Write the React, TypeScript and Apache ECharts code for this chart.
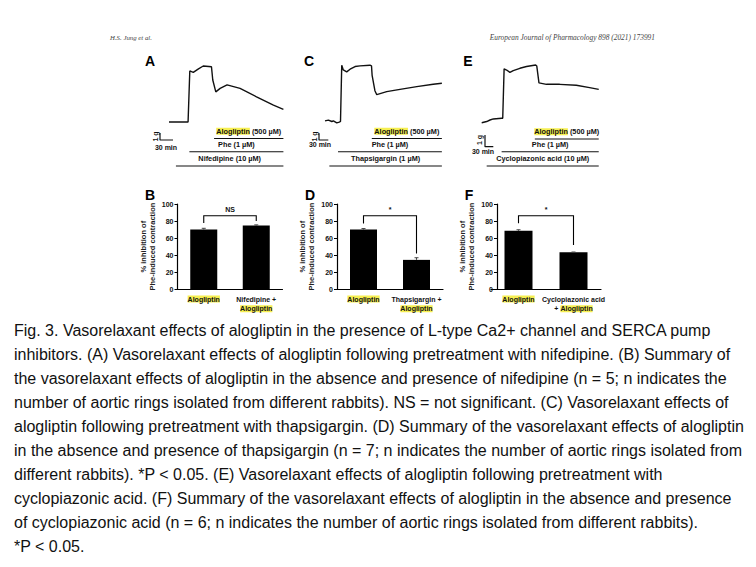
import React, { useEffect, useRef } from 'react';
import * as echarts from 'echarts';

// ---------- Header & caption ----------
const HEADER_LEFT = 'H.S. Jung et al.';
const HEADER_RIGHT = 'European Journal of Pharmacology 898 (2021) 173991';
const CAPTION_LINES = [
  'Fig. 3. Vasorelaxant effects of alogliptin in the presence of L-type Ca2+ channel and SERCA pump',
  'inhibitors. (A) Vasorelaxant effects of alogliptin following pretreatment with nifedipine. (B) Summary of',
  'the vasorelaxant effects of alogliptin in the absence and presence of nifedipine (n = 5; n indicates the',
  'number of aortic rings isolated from different rabbits). NS = not significant. (C) Vasorelaxant effects of',
  'alogliptin following pretreatment with thapsigargin. (D) Summary of the vasorelaxant effects of alogliptin',
  'in the absence and presence of thapsigargin (n = 7; n indicates the number of aortic rings isolated from',
  'different rabbits). *P < 0.05. (E) Vasorelaxant effects of alogliptin following pretreatment with',
  'cyclopiazonic acid. (F) Summary of the vasorelaxant effects of alogliptin in the absence and presence',
  'of cyclopiazonic acid (n = 6; n indicates the number of aortic rings isolated from different rabbits).',
  '*P < 0.05.',
];

// ---------- Tension traces: [time (min), tension (g)] ----------
const traceA: number[][] = [
  [0, 0], [44, 0], [48, 7.3], [56, 7.1], [68, 7.6], [79, 8.0], [98, 7.9], [101, 6.0],
  [108, 4.3], [118, 4.8], [134, 5.3], [164, 4.8], [202, 3.6], [241, 2.4], [264, 1.8],
];
const traceC: number[][] = [
  [0, 0.1], [11, 0.2], [22, 0], [27, 0.1], [38, -0.2], [46, -0.1], [50, 0], [54, 8.4],
  [59, 7.7], [70, 7.4], [81, 7.8], [97, 8.2], [113, 8.3], [145, 8.4], [150, 8.3],
  [152, 6.9], [161, 4.6], [167, 4.0], [199, 4.45], [242, 4.8], [296, 5.2], [349, 5.55], [377, 5.7],
];
const traceE: number[][] = [
  [0, 0], [18, 0.1], [30, 0.23], [42, 0.32], [72, 0.38], [76, 0.38], [81, 4.6], [90, 4.5],
  [102, 4.3], [114, 4.45], [138, 4.65], [162, 4.8], [195, 4.93], [199, 4.85], [207, 3.4],
  [234, 3.28], [282, 3.28], [342, 3.2], [390, 3.0], [423, 2.85],
];

// Drug application bars (min)
const drugNamesA = ['Alogliptin (500 µM)', 'Phe (1 µM)', 'Nifedipine (10 µM)'];
const drugStartA = [104, 47, 16];
const drugEndA = [264, 264, 264];
const drugNamesC = ['Alogliptin (500 µM)', 'Phe (1 µM)', 'Thapsigargin (1 µM)'];
const drugStartC = [151, 42, 14];
const drugEndC = [377, 377, 377];
const drugNamesE = ['Alogliptin (500 µM)', 'Phe (1 µM)', 'Cyclopiazonic acid (10 µM)'];
const drugStartE = [192, 72, 18];
const drugEndE = [423, 423, 423];

// Scale bars
const SCALE_MIN = 30;
const SCALE_G = 1;

// ---------- Summary bar charts (% inhibition) ----------
const catsB = ['Alogliptin', 'Nifedipine +\nAlogliptin'];
const valsB = [70, 74.7];
const errB = [1.5, 0.8];
const bracketB = [77.7, 80, 86.3];
const sigB = 'NS';

const catsD = ['Alogliptin', 'Thapsigargin +\nAlogliptin'];
const valsD = [70, 34.5];
const errD = [1.2, 2.5];
const bracketD = [77, 42, 86.3];
const sigD = '*';

const catsF = ['Alogliptin', 'Cyclopiazonic acid\n+ Alogliptin'];
const valsF = [68.5, 43.3];
const errF = [1.3, 0.4];
const bracketF = [77.4, 52, 86.3];
const sigF = '*';

const Y_TICKS_MIN = 0;
const Y_TICKS_MAX = 100;
const Y_TICKS_STEP = 20;
const Y_NAME = '% inhibition of\nPhe-induced contraction';

// ---------- layout ----------
const FONT = '"Liberation Sans", Arial, sans-serif';
const HL = '#f6ef52';

const tracePanels = [
  {
    letter: 'A', letterPos: [150, 61],
    grid: { left: 140, top: 48, width: 160, height: 128 }, origin: [169, 122], pxPerMin: 13 / 30, pxPerG: 7,
    trace: traceA, names: drugNamesA, starts: drugStartA, ends: drugEndA,
    levelsPx: [138.5, 151.7, 166], scaleAnchor: [160, 140], gLabel: [155, 136.5], minLabel: [166, 147],
  },
  {
    letter: 'C', letterPos: [309, 61],
    grid: { left: 300, top: 48, width: 160, height: 128 }, origin: [325, 121.5], pxPerMin: 9.3 / 30, pxPerG: 6.7,
    trace: traceC, names: drugNamesC, starts: drugStartC, ends: drugEndC,
    levelsPx: [138.5, 151.7, 166], scaleAnchor: [319, 140], gLabel: [314, 136.5], minLabel: [320, 144],
  },
  {
    letter: 'E', letterPos: [468, 61],
    grid: { left: 460, top: 48, width: 160, height: 128 }, origin: [481.7, 122.7], pxPerMin: 8.3 / 30, pxPerG: 11.7,
    trace: traceE, names: drugNamesE, starts: drugStartE, ends: drugEndE,
    levelsPx: [139, 151.7, 166], scaleAnchor: [485, 146.7], gLabel: [479, 140], minLabel: [483, 151],
  },
];

const barPanels = [
  { letter: 'B', letterPos: [150, 195], grid: { left: 177.5, top: 204, width: 105, height: 85.3 }, yOffset: 0,
    cats: catsB, vals: valsB, errs: errB, bracket: bracketB, sig: sigB, barWidth: 27 },
  { letter: 'D', letterPos: [310, 195], grid: { left: 337, top: 204, width: 106, height: 85.3 }, yOffset: 0,
    cats: catsD, vals: valsD, errs: errD, bracket: bracketD, sig: sigD, barWidth: 27 },
  { letter: 'F', letterPos: [469, 195], grid: { left: 491, top: 204, width: 110, height: 85.3 }, yOffset: -6,
    cats: catsF, vals: valsF, errs: errF, bracket: bracketF, sig: sigF, barWidth: 28 },
];

function hl(s: string) {
  return s.replace(/Alogliptin/g, '{hl|Alogliptin}');
}

function txt(text: string, x: number, y: number, extra: any = {}, styleExtra: any = {}) {
  return {
    type: 'text', x, y, ...extra,
    style: {
      text, fill: '#111', fontFamily: FONT, fontSize: 7, fontWeight: 'bold',
      textAlign: 'center', textVerticalAlign: 'middle', align: 'center', verticalAlign: 'middle',
      ...styleExtra,
    },
  };
}

export default function App() {
  const ref = useRef<HTMLDivElement>(null);
  useEffect(() => {
    if (!ref.current) return;
    const chart = echarts.init(ref.current, undefined, { renderer: 'svg' });

    const grids: any[] = [];
    const xAxes: any[] = [];
    const yAxes: any[] = [];
    const series: any[] = [];

    tracePanels.forEach((p, i) => {
      const g = p.grid;
      grids.push({ ...g, outerBoundsMode: 'none', containLabel: false });
      xAxes.push({
        type: 'value', gridIndex: i, show: false,
        min: (g.left - p.origin[0]) / p.pxPerMin, max: (g.left + g.width - p.origin[0]) / p.pxPerMin,
      });
      yAxes.push({
        type: 'value', gridIndex: i, show: false,
        max: (p.origin[1] - g.top) / p.pxPerG, min: (p.origin[1] - (g.top + g.height)) / p.pxPerG,
      });
      series.push({
        type: 'line', xAxisIndex: i, yAxisIndex: i, data: p.trace, symbol: 'none',
        lineStyle: { color: '#111', width: 1.4 }, silent: true,
      });
      p.names.forEach((_, j) => {
        const lv = (p.origin[1] - p.levelsPx[j]) / p.pxPerG;
        series.push({
          type: 'line', xAxisIndex: i, yAxisIndex: i, symbol: 'none',
          data: [[p.starts[j], lv], [p.ends[j], lv]],
          lineStyle: { color: '#111', width: 1.1 }, silent: true,
        });
      });
      const t0 = (p.scaleAnchor[0] - p.origin[0]) / p.pxPerMin;
      const g0 = (p.origin[1] - p.scaleAnchor[1]) / p.pxPerG;
      series.push({
        type: 'line', xAxisIndex: i, yAxisIndex: i, symbol: 'none',
        data: [[t0, g0 + SCALE_G], [t0, g0], [t0 + SCALE_MIN, g0]],
        lineStyle: { color: '#111', width: 1.2 }, silent: true,
      });
    });

    barPanels.forEach((p, k) => {
      const i = k + 3;
      grids.push({ ...p.grid, outerBoundsMode: 'none', containLabel: false });
      xAxes.push({
        type: 'category', gridIndex: i, data: p.cats,
        axisLine: { show: true, lineStyle: { color: '#000', width: 1.2 } },
        axisTick: { show: false },
        axisLabel: {
          interval: 0, margin: 5, color: '#111', fontFamily: FONT, fontSize: 7, fontWeight: 'bold', lineHeight: 9.6,
          formatter: (v: string) => hl(v),
          rich: { hl: { backgroundColor: HL, color: '#111', fontFamily: FONT, fontSize: 7, fontWeight: 'bold', lineHeight: 9.6 } },
        },
      });
      yAxes.push({
        type: 'value', gridIndex: i, min: Y_TICKS_MIN, max: Y_TICKS_MAX, interval: Y_TICKS_STEP, offset: p.yOffset,
        axisLine: { show: true, lineStyle: { color: '#000', width: 1.2 } },
        axisTick: { show: true, length: 3, lineStyle: { color: '#000', width: 1 } },
        splitLine: { show: false },
        axisLabel: { margin: 4, color: '#111', fontFamily: FONT, fontSize: 7, fontWeight: 'bold' },
        name: Y_NAME, nameLocation: 'middle', nameGap: 21, nameMoveOverlap: false,
        nameTextStyle: { color: '#222', fontFamily: FONT, fontSize: 7.5, lineHeight: 9, fontWeight: 'bold' },
      });
      series.push({
        type: 'bar', xAxisIndex: i, yAxisIndex: i, data: p.vals, barWidth: p.barWidth,
        itemStyle: { color: '#000' }, silent: true,
      });
      series.push({
        type: 'custom', xAxisIndex: i, yAxisIndex: i, silent: true, z: 3,
        data: p.vals.map((v, j) => [j, v, p.errs[j]]),
        renderItem: (_params: any, api: any) => {
          const x = api.value(0), m = api.value(1), e = api.value(2);
          const a = api.coord([x, m]);
          const b = api.coord([x, m + e]);
          return {
            type: 'group', children: [
              { type: 'line', shape: { x1: a[0], y1: a[1], x2: b[0], y2: b[1] }, style: { stroke: '#444', lineWidth: 1 } },
              { type: 'line', shape: { x1: b[0] - 2, y1: b[1], x2: b[0] + 2, y2: b[1] }, style: { stroke: '#444', lineWidth: 1 } },
            ],
          };
        },
      });
      series.push({
        type: 'custom', xAxisIndex: i, yAxisIndex: i, silent: true, z: 4,
        data: [[0, p.bracket[0]]],
        renderItem: (_params: any, api: any) => {
          const [l, r, t] = p.bracket;
          const p1 = api.coord([0, l]);
          const p2 = api.coord([0, t]);
          const p3 = api.coord([1, t]);
          const p4 = api.coord([1, r]);
          return {
            type: 'group', children: [
              { type: 'polyline', shape: { points: [p1, p2, p3, p4] }, style: { stroke: '#000', lineWidth: 1.1, fill: 'none' } },
              {
                type: 'text', x: (p2[0] + p3[0]) / 2, y: p2[1] - 6,
                style: {
                  text: p.sig, fill: '#111', fontFamily: FONT, fontSize: 7, fontWeight: 'bold',
                  textAlign: 'center', textVerticalAlign: 'middle', align: 'center', verticalAlign: 'middle',
                },
              },
            ],
          };
        },
      });
    });

    chart.setOption({
      animation: false,
      backgroundColor: '#fff',
      grid: grids, xAxis: xAxes, yAxis: yAxes, series,
    });

    // text annotations
    const graphics: any[] = [];
    graphics.push(txt(HEADER_LEFT, 110, 37, {}, {
      fontFamily: '"Liberation Serif", "DejaVu Serif", serif', fontStyle: 'italic', fontWeight: 'normal',
      fontSize: 6.8, fill: '#444', textAlign: 'left', align: 'left',
    }));
    graphics.push(txt(HEADER_RIGHT, 655, 37, {}, {
      fontFamily: '"Liberation Serif", "DejaVu Serif", serif', fontStyle: 'italic', fontWeight: 'normal',
      fontSize: 7.4, fill: '#444', textAlign: 'right', align: 'right',
    }));
    tracePanels.forEach((p, i) => {
      graphics.push(txt(p.letter, p.letterPos[0], p.letterPos[1], {}, { fontSize: 14, fill: '#000' }));
      p.names.forEach((name, j) => {
        const lv = (p.origin[1] - p.levelsPx[j]) / p.pxPerG;
        const a = chart.convertToPixel({ gridIndex: i } as any, [p.starts[j], lv]) as number[];
        const b = chart.convertToPixel({ gridIndex: i } as any, [p.ends[j], lv]) as number[];
        graphics.push(txt(hl(name), (a[0] + b[0]) / 2, a[1] - 7.2, {}, {
          fontSize: 7.3,
          rich: { hl: { backgroundColor: HL, fill: '#111', fontFamily: FONT, fontSize: 7.3, fontWeight: 'bold' } },
        }));
      });
      graphics.push(txt(`${SCALE_G} g`, p.gLabel[0], p.gLabel[1], { rotation: Math.PI / 2 }, { fontSize: 7 }));
      graphics.push(txt(`${SCALE_MIN} min`, p.minLabel[0], p.minLabel[1], {}, { fontSize: 7 }));
    });
    barPanels.forEach((p) => {
      graphics.push(txt(p.letter, p.letterPos[0], p.letterPos[1], {}, { fontSize: 14, fill: '#000' }));
    });
    CAPTION_LINES.forEach((line, i) => {
      graphics.push(txt(line, 14, 330 + i * 24, {}, {
        fontSize: 16, fontWeight: 'normal', fill: '#111', textAlign: 'left', align: 'left',
      }));
    });
    chart.setOption({ graphic: graphics });

    return () => chart.dispose();
  }, []);
  return (
    <div
      ref={ref}
      style={{ position: 'fixed', left: 0, top: 0, width: 756, height: 567, background: '#fff' }}
    />
  );
}
